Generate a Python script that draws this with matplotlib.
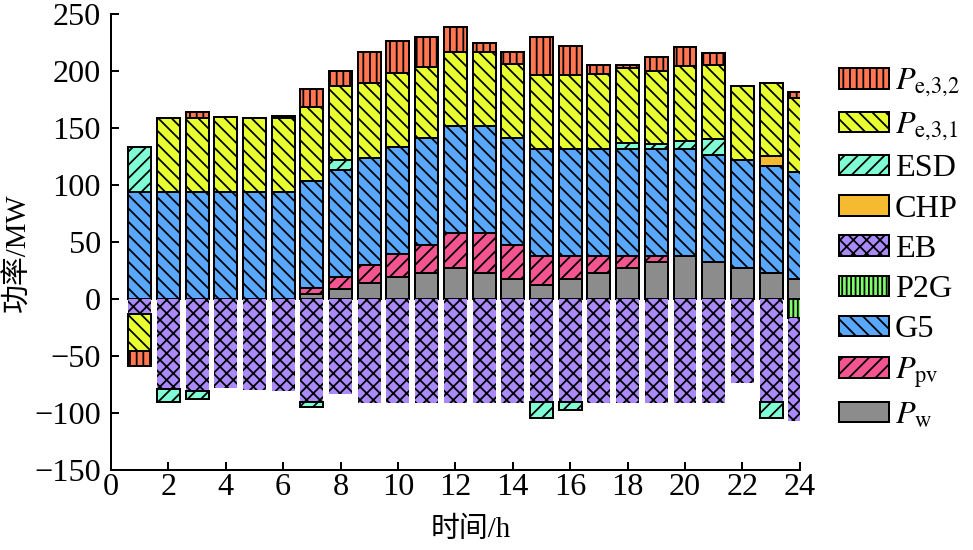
import numpy as np
import matplotlib
matplotlib.use("Agg")
import matplotlib.pyplot as plt
from matplotlib.patches import Patch

plt.rcParams['font.family'] = ['Liberation Serif', 'Noto Sans CJK SC']
plt.rcParams['mathtext.fontset'] = 'stix'
plt.rcParams['hatch.linewidth'] = 1.6
plt.rcParams['axes.linewidth'] = 1.8

hours = np.arange(1, 25)

# values (MW), one entry per hour 1..24
P_w = [0, 0, 0, 0, 0, 0, 4.4, 9, 13.8, 19.3, 22.5, 26.9, 22.5, 17.3, 12.3, 17.3,
       22.5, 26.9, 32.2, 37.7, 32.7, 27.5, 23.1, 17.3]
P_pv = [0, 0, 0, 0, 0, 0, 5, 10, 16, 19.9, 24.9, 31.3, 35.7, 30.1, 25.4, 20.4,
        15.2, 10.8, 5.5, 0, 0, 0, 0, 0]
G5 = [93.6, 93.6, 93.6, 93.6, 93.6, 93.6, 94.1, 94.2, 93.9, 94.4, 94.1, 93.8, 93.8,
      93.8, 93.9, 93.9, 93.9, 93.9, 93.9, 93.9, 93.6, 94.5, 93.9, 93.8]
P2G = [0, 0, 0, 0, 0, 0, 0, 0, 0, 0, 0, 0, 0, 0, 0, 0, 0, 0, 0, 0, 0, 0, 0, -16.4]
EB = [-13.4, -79, -80.4, -77.8, -79.8, -80.7, -90, -83.6, -91, -91, -91, -91, -91,
      -91, -90, -90, -91, -91, -91, -91, -91, -74, -90, -90.3]
CHP = [0, 0, 0, 0, 0, 0, 0, 0, 0, 0, 0, 0, 0, 0, 0, 0, 0, 0, 0, 0, 0, 0, 8.4, 0]
ESD = [40, -11.6, -7.3, 0, 0, 0, -5, 8.8, 0, 0, 0, 0, 0, 0, -14.7, -7.4,
       0, 4.9, 4.4, 7, 13.7, 0, -14.7, 0]
P_e31 = [-32.2, 65.5, 65.5, 66, 65.5, 65, 64.9, 64.8, 66.1, 64.9, 62, 64.7, 64.7,
         65.2, 64.6, 64.9, 65.4, 65.9, 64.3, 65.4, 65.3, 65, 64.4, 65.5]
P_e32 = [-13.2, 0, 5.3, 0, 0, 2.3, 16.1, 12.9, 26.9, 28.1, 26.6, 22.2, 7.6, 10.6,
         33.9, 25.7, 8.3, 2.9, 12.3, 17.3, 10.2, 0, 0, 5.3]

series = [
    (P_w, '#8c8c8c', '', r'$P_{\mathrm{w}}$'),
    (P_pv, '#f2558f', '//', r'$P_{\mathrm{pv}}$'),
    (G5, '#58a8ff', '\\\\', 'G5'),
    (P2G, '#80ff6c', '|||', 'P2G'),
    (EB, '#aa8afa', 'xx', 'EB'),
    (CHP, '#f5ba30', '', 'CHP'),
    (ESD, '#80ffd4', '//', 'ESD'),
    (P_e31, '#e8ff30', '\\\\', r'$P_{\mathrm{e{,}3{,}1}}$'),
    (P_e32, '#ff7650', '||', r'$P_{\mathrm{e{,}3{,}2}}$'),
]

fig = plt.figure(figsize=(973 / 80, 550 / 80), dpi=80)
ax = fig.add_axes([0.114, 0.1455, 0.708, 0.829])

pos_bottom = np.zeros(24)
neg_bottom = np.zeros(24)
for vals, col, hat, lab in series:
    v = np.array(vals, dtype=float)
    bottom = np.where(v >= 0, pos_bottom, neg_bottom)
    m = v != 0
    lw = 0 if lab == 'EB' else 1.8
    ax.bar(hours[m], v[m], 0.8, bottom=bottom[m], color=col, hatch=hat,
           edgecolor='black', linewidth=lw)
    pos_bottom = pos_bottom + np.where(v > 0, v, 0)
    neg_bottom = neg_bottom + np.where(v < 0, v, 0)

ax.set_xlim(0, 24)
ax.set_ylim(-150, 250)
ax.set_xticks(np.arange(0, 25, 2))
ax.set_yticks(np.arange(-150, 251, 50))
ax.spines['top'].set_visible(False)
ax.spines['right'].set_visible(False)
ax.tick_params(direction='in', length=7, width=1.8, labelsize=29)
ax.tick_params(axis='x', pad=3)
ax.tick_params(axis='y', pad=9)
ax.set_xlabel('时间/h', fontsize=26)
ax.set_ylabel('功率/MW', fontsize=26)
ax.xaxis.set_label_coords(0.523, -0.103)
ax.yaxis.set_label_coords(-0.115, 0.476)

handles = [Patch(facecolor=c, hatch=h, edgecolor='black', linewidth=1.8, label=l)
           for _, c, h, l in series[::-1]]
fig.legend(handles=handles, loc='upper left', bbox_to_anchor=(0.862, 0.878),
           frameon=False, fontsize=29, handlelength=1.55, handleheight=0.6,
           labelspacing=0.35, handletextpad=0.2, borderaxespad=0, borderpad=0)

fig.savefig('out.png', dpi=80)
